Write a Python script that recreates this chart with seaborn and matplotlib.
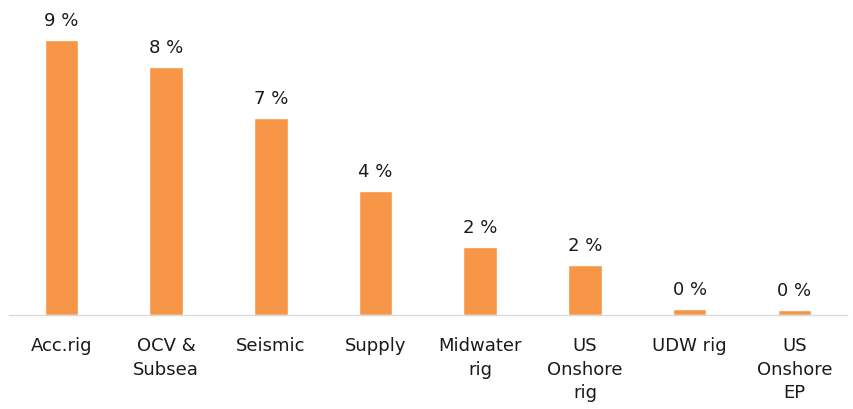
import numpy as np
import pandas as pd
import seaborn as sns
from matplotlib import pyplot as plt

# %% data
categories = ["Acc.rig", "OCV &\nSubsea", "Seismic", "Supply", "Midwater\nrig",
              "US\nOnshore\nrig", "UDW rig", "US\nOnshore\nEP"]
values = [9.3, 8.4, 6.66, 4.19, 2.3, 1.69, 0.2, 0.17]
value_labels = ["9 %", "8 %", "7 %", "4 %", "2 %", "2 %", "0 %", "0 %"]

BAR_COLOR = "#F79646"

# %% plot
sns.set_style("white")
plt.rcParams["font.family"] = ["DejaVu Sans"]

fig = plt.figure(figsize=(8.54, 4.10), dpi=100)
ax = fig.add_axes([0.0105, 0.229, 0.981, 0.771])

df = pd.DataFrame({"category": categories, "value": values})
sns.barplot(data=df, x="category", y="value", color=BAR_COLOR, saturation=1,
            width=0.32, ax=ax)

ax.bar_label(ax.containers[0], labels=value_labels, padding=8, fontsize=13,
             color="#1a1a1a")

ax.set_xlim(-0.5, 7.5)
ax.set_ylim(0, 9.3 * 316 / 275)
ax.set_xlabel("")
ax.set_ylabel("")
ax.set_yticks([])
ax.spines[["top", "right", "left"]].set_visible(False)
ax.spines["bottom"].set_color("#d9d9d9")
ax.spines["bottom"].set_linewidth(1)
ax.tick_params(axis="x", length=0, pad=15, labelsize=13, labelcolor="#1a1a1a")
for lbl in ax.get_xticklabels():
    lbl.set_linespacing(1.4)
    lbl.set_verticalalignment("top")

fig.savefig("out.png", dpi=100)
